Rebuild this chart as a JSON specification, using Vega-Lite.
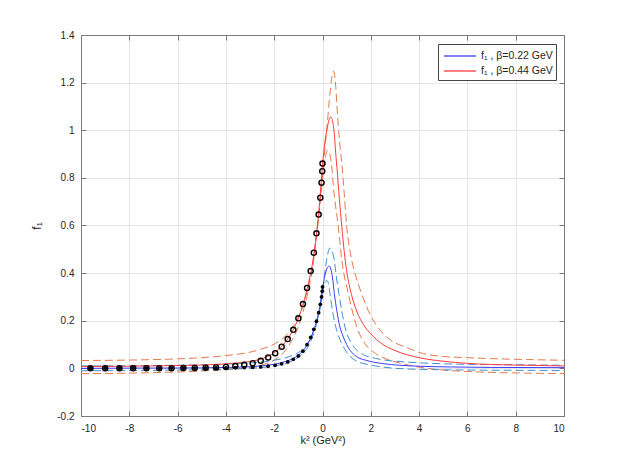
{
  "$schema": "https://vega.github.io/schema/vega-lite/v6.json",
  "description": "f1 versus k2 for beta = 0.22 GeV and 0.44 GeV, with bands and data points",
  "autosize": "none",
  "padding": {"left": 81, "top": 35, "right": 59, "bottom": 51},
  "width": 483,
  "height": 381,
  "background": "white",
  "config": {
    "font": "Liberation Sans",
    "view": {"stroke": null},
    "axis": {
      "labelFont": "Liberation Sans",
      "labelFontSize": 10,
      "labelColor": "#262626",
      "titleFont": "Liberation Sans",
      "titleFontSize": 11,
      "titleFontWeight": "normal",
      "titleColor": "#262626",
      "domainColor": "#7a7a7a",
      "tickColor": "#7a7a7a",
      "gridColor": "#e6e6e6",
      "gridWidth": 1
    }
  },
  "datasets": {
    "solid": [
      {"x": -10, "y": 0.0, "s": "f₁ , β=0.22 GeV"},
      {"x": -8, "y": 0.001, "s": "f₁ , β=0.22 GeV"},
      {"x": -6, "y": 0.0015, "s": "f₁ , β=0.22 GeV"},
      {"x": -5, "y": 0.002, "s": "f₁ , β=0.22 GeV"},
      {"x": -4, "y": 0.004, "s": "f₁ , β=0.22 GeV"},
      {"x": -3, "y": 0.007, "s": "f₁ , β=0.22 GeV"},
      {"x": -2.5, "y": 0.011, "s": "f₁ , β=0.22 GeV"},
      {"x": -2, "y": 0.017, "s": "f₁ , β=0.22 GeV"},
      {"x": -1.5, "y": 0.03, "s": "f₁ , β=0.22 GeV"},
      {"x": -1.2, "y": 0.042, "s": "f₁ , β=0.22 GeV"},
      {"x": -1, "y": 0.055, "s": "f₁ , β=0.22 GeV"},
      {"x": -0.8, "y": 0.075, "s": "f₁ , β=0.22 GeV"},
      {"x": -0.6, "y": 0.104, "s": "f₁ , β=0.22 GeV"},
      {"x": -0.4, "y": 0.15, "s": "f₁ , β=0.22 GeV"},
      {"x": -0.25, "y": 0.198, "s": "f₁ , β=0.22 GeV"},
      {"x": -0.1, "y": 0.265, "s": "f₁ , β=0.22 GeV"},
      {"x": 0, "y": 0.335, "s": "f₁ , β=0.22 GeV"},
      {"x": 0.1, "y": 0.39, "s": "f₁ , β=0.22 GeV"},
      {"x": 0.2, "y": 0.423, "s": "f₁ , β=0.22 GeV"},
      {"x": 0.27, "y": 0.43, "s": "f₁ , β=0.22 GeV"},
      {"x": 0.35, "y": 0.415, "s": "f₁ , β=0.22 GeV"},
      {"x": 0.41, "y": 0.384, "s": "f₁ , β=0.22 GeV"},
      {"x": 0.49, "y": 0.314, "s": "f₁ , β=0.22 GeV"},
      {"x": 0.59, "y": 0.244, "s": "f₁ , β=0.22 GeV"},
      {"x": 0.72, "y": 0.174, "s": "f₁ , β=0.22 GeV"},
      {"x": 0.85, "y": 0.135, "s": "f₁ , β=0.22 GeV"},
      {"x": 1.0, "y": 0.1, "s": "f₁ , β=0.22 GeV"},
      {"x": 1.15, "y": 0.075, "s": "f₁ , β=0.22 GeV"},
      {"x": 1.4, "y": 0.05, "s": "f₁ , β=0.22 GeV"},
      {"x": 1.8, "y": 0.034, "s": "f₁ , β=0.22 GeV"},
      {"x": 2.5, "y": 0.02, "s": "f₁ , β=0.22 GeV"},
      {"x": 3.2, "y": 0.013, "s": "f₁ , β=0.22 GeV"},
      {"x": 4, "y": 0.009, "s": "f₁ , β=0.22 GeV"},
      {"x": 5.3, "y": 0.006, "s": "f₁ , β=0.22 GeV"},
      {"x": 7, "y": 0.004, "s": "f₁ , β=0.22 GeV"},
      {"x": 10, "y": 0.003, "s": "f₁ , β=0.22 GeV"},
      {"x": -10, "y": 0.008, "s": "f₁ , β=0.44 GeV"},
      {"x": -8, "y": 0.009, "s": "f₁ , β=0.44 GeV"},
      {"x": -6, "y": 0.012, "s": "f₁ , β=0.44 GeV"},
      {"x": -5, "y": 0.014, "s": "f₁ , β=0.44 GeV"},
      {"x": -4, "y": 0.019, "s": "f₁ , β=0.44 GeV"},
      {"x": -3.5, "y": 0.023, "s": "f₁ , β=0.44 GeV"},
      {"x": -3, "y": 0.029, "s": "f₁ , β=0.44 GeV"},
      {"x": -2.5, "y": 0.041, "s": "f₁ , β=0.44 GeV"},
      {"x": -2, "y": 0.066, "s": "f₁ , β=0.44 GeV"},
      {"x": -1.5, "y": 0.115, "s": "f₁ , β=0.44 GeV"},
      {"x": -1.2, "y": 0.165, "s": "f₁ , β=0.44 GeV"},
      {"x": -1, "y": 0.21, "s": "f₁ , β=0.44 GeV"},
      {"x": -0.8, "y": 0.27, "s": "f₁ , β=0.44 GeV"},
      {"x": -0.6, "y": 0.35, "s": "f₁ , β=0.44 GeV"},
      {"x": -0.4, "y": 0.45, "s": "f₁ , β=0.44 GeV"},
      {"x": -0.25, "y": 0.565, "s": "f₁ , β=0.44 GeV"},
      {"x": -0.1, "y": 0.72, "s": "f₁ , β=0.44 GeV"},
      {"x": 0, "y": 0.855, "s": "f₁ , β=0.44 GeV"},
      {"x": 0.1, "y": 0.95, "s": "f₁ , β=0.44 GeV"},
      {"x": 0.2, "y": 1.01, "s": "f₁ , β=0.44 GeV"},
      {"x": 0.3, "y": 1.052, "s": "f₁ , β=0.44 GeV"},
      {"x": 0.35, "y": 1.056, "s": "f₁ , β=0.44 GeV"},
      {"x": 0.4, "y": 1.045, "s": "f₁ , β=0.44 GeV"},
      {"x": 0.45, "y": 1.02, "s": "f₁ , β=0.44 GeV"},
      {"x": 0.5, "y": 0.97, "s": "f₁ , β=0.44 GeV"},
      {"x": 0.55, "y": 0.9, "s": "f₁ , β=0.44 GeV"},
      {"x": 0.6, "y": 0.84, "s": "f₁ , β=0.44 GeV"},
      {"x": 0.7, "y": 0.71, "s": "f₁ , β=0.44 GeV"},
      {"x": 0.8, "y": 0.595, "s": "f₁ , β=0.44 GeV"},
      {"x": 0.9, "y": 0.49, "s": "f₁ , β=0.44 GeV"},
      {"x": 1.0, "y": 0.41, "s": "f₁ , β=0.44 GeV"},
      {"x": 1.2, "y": 0.31, "s": "f₁ , β=0.44 GeV"},
      {"x": 1.4, "y": 0.245, "s": "f₁ , β=0.44 GeV"},
      {"x": 1.76, "y": 0.174, "s": "f₁ , β=0.44 GeV"},
      {"x": 2.0, "y": 0.145, "s": "f₁ , β=0.44 GeV"},
      {"x": 2.45, "y": 0.104, "s": "f₁ , β=0.44 GeV"},
      {"x": 3, "y": 0.075, "s": "f₁ , β=0.44 GeV"},
      {"x": 4, "y": 0.045, "s": "f₁ , β=0.44 GeV"},
      {"x": 5, "y": 0.03, "s": "f₁ , β=0.44 GeV"},
      {"x": 6, "y": 0.021, "s": "f₁ , β=0.44 GeV"},
      {"x": 8, "y": 0.014, "s": "f₁ , β=0.44 GeV"},
      {"x": 10, "y": 0.01, "s": "f₁ , β=0.44 GeV"}
    ],
    "dashed": [
      {"x": -10, "y": 0.033, "c": "ru"},
      {"x": -8, "y": 0.035, "c": "ru"},
      {"x": -6, "y": 0.04, "c": "ru"},
      {"x": -5, "y": 0.045, "c": "ru"},
      {"x": -4, "y": 0.054, "c": "ru"},
      {"x": -3, "y": 0.068, "c": "ru"},
      {"x": -2.5, "y": 0.082, "c": "ru"},
      {"x": -2, "y": 0.102, "c": "ru"},
      {"x": -1.5, "y": 0.14, "c": "ru"},
      {"x": -1.2, "y": 0.18, "c": "ru"},
      {"x": -1, "y": 0.215, "c": "ru"},
      {"x": -0.8, "y": 0.27, "c": "ru"},
      {"x": -0.6, "y": 0.34, "c": "ru"},
      {"x": -0.4, "y": 0.44, "c": "ru"},
      {"x": -0.2, "y": 0.6, "c": "ru"},
      {"x": 0, "y": 0.8, "c": "ru"},
      {"x": 0.1, "y": 0.92, "c": "ru"},
      {"x": 0.2, "y": 1.03, "c": "ru"},
      {"x": 0.31, "y": 1.155, "c": "ru"},
      {"x": 0.4, "y": 1.232, "c": "ru"},
      {"x": 0.45, "y": 1.248, "c": "ru"},
      {"x": 0.5, "y": 1.235, "c": "ru"},
      {"x": 0.55, "y": 1.18, "c": "ru"},
      {"x": 0.6, "y": 1.1, "c": "ru"},
      {"x": 0.7, "y": 0.96, "c": "ru"},
      {"x": 0.8, "y": 0.86, "c": "ru"},
      {"x": 0.9, "y": 0.735, "c": "ru"},
      {"x": 1.0, "y": 0.6, "c": "ru"},
      {"x": 1.2, "y": 0.46, "c": "ru"},
      {"x": 1.4, "y": 0.38, "c": "ru"},
      {"x": 1.62, "y": 0.314, "c": "ru"},
      {"x": 2, "y": 0.22, "c": "ru"},
      {"x": 2.24, "y": 0.18, "c": "ru"},
      {"x": 2.8, "y": 0.12, "c": "ru"},
      {"x": 3.42, "y": 0.09, "c": "ru"},
      {"x": 4.18, "y": 0.062, "c": "ru"},
      {"x": 5, "y": 0.05, "c": "ru"},
      {"x": 6, "y": 0.045, "c": "ru"},
      {"x": 7, "y": 0.041, "c": "ru"},
      {"x": 8.5, "y": 0.037, "c": "ru"},
      {"x": 10, "y": 0.034, "c": "ru"},
      {"x": -10, "y": -0.022, "c": "rl"},
      {"x": -8, "y": -0.02, "c": "rl"},
      {"x": -6, "y": -0.015, "c": "rl"},
      {"x": -5, "y": -0.011, "c": "rl"},
      {"x": -4, "y": -0.005, "c": "rl"},
      {"x": -3, "y": 0.004, "c": "rl"},
      {"x": -2.5, "y": 0.015, "c": "rl"},
      {"x": -2, "y": 0.035, "c": "rl"},
      {"x": -1.5, "y": 0.08, "c": "rl"},
      {"x": -1.2, "y": 0.13, "c": "rl"},
      {"x": -1, "y": 0.175, "c": "rl"},
      {"x": -0.8, "y": 0.24, "c": "rl"},
      {"x": -0.6, "y": 0.32, "c": "rl"},
      {"x": -0.4, "y": 0.43, "c": "rl"},
      {"x": -0.2, "y": 0.6, "c": "rl"},
      {"x": 0, "y": 0.8, "c": "rl"},
      {"x": 0.1, "y": 0.874, "c": "rl"},
      {"x": 0.21, "y": 0.916, "c": "rl"},
      {"x": 0.3, "y": 0.9, "c": "rl"},
      {"x": 0.35, "y": 0.874, "c": "rl"},
      {"x": 0.48, "y": 0.734, "c": "rl"},
      {"x": 0.655, "y": 0.594, "c": "rl"},
      {"x": 0.8, "y": 0.454, "c": "rl"},
      {"x": 1.07, "y": 0.314, "c": "rl"},
      {"x": 1.42, "y": 0.174, "c": "rl"},
      {"x": 1.76, "y": 0.104, "c": "rl"},
      {"x": 2.2, "y": 0.062, "c": "rl"},
      {"x": 2.8, "y": 0.034, "c": "rl"},
      {"x": 3.5, "y": 0.015, "c": "rl"},
      {"x": 4.87, "y": -0.006, "c": "rl"},
      {"x": 6, "y": -0.013, "c": "rl"},
      {"x": 7, "y": -0.017, "c": "rl"},
      {"x": 8.5, "y": -0.02, "c": "rl"},
      {"x": 10, "y": -0.022, "c": "rl"},
      {"x": -10, "y": 0.01, "c": "bu"},
      {"x": -8, "y": 0.011, "c": "bu"},
      {"x": -6, "y": 0.013, "c": "bu"},
      {"x": -5, "y": 0.015, "c": "bu"},
      {"x": -4, "y": 0.018, "c": "bu"},
      {"x": -3, "y": 0.023, "c": "bu"},
      {"x": -2.5, "y": 0.027, "c": "bu"},
      {"x": -2, "y": 0.034, "c": "bu"},
      {"x": -1.5, "y": 0.045, "c": "bu"},
      {"x": -1.2, "y": 0.056, "c": "bu"},
      {"x": -1, "y": 0.066, "c": "bu"},
      {"x": -0.8, "y": 0.082, "c": "bu"},
      {"x": -0.6, "y": 0.107, "c": "bu"},
      {"x": -0.4, "y": 0.148, "c": "bu"},
      {"x": -0.25, "y": 0.19, "c": "bu"},
      {"x": -0.1, "y": 0.25, "c": "bu"},
      {"x": 0, "y": 0.31, "c": "bu"},
      {"x": 0.075, "y": 0.384, "c": "bu"},
      {"x": 0.17, "y": 0.454, "c": "bu"},
      {"x": 0.25, "y": 0.495, "c": "bu"},
      {"x": 0.31, "y": 0.506, "c": "bu"},
      {"x": 0.38, "y": 0.495, "c": "bu"},
      {"x": 0.49, "y": 0.454, "c": "bu"},
      {"x": 0.58, "y": 0.38, "c": "bu"},
      {"x": 0.68, "y": 0.314, "c": "bu"},
      {"x": 0.8, "y": 0.24, "c": "bu"},
      {"x": 0.93, "y": 0.174, "c": "bu"},
      {"x": 1.21, "y": 0.104, "c": "bu"},
      {"x": 1.62, "y": 0.062, "c": "bu"},
      {"x": 2.2, "y": 0.042, "c": "bu"},
      {"x": 2.8, "y": 0.032, "c": "bu"},
      {"x": 3.42, "y": 0.027, "c": "bu"},
      {"x": 4.5, "y": 0.021, "c": "bu"},
      {"x": 6, "y": 0.017, "c": "bu"},
      {"x": 8, "y": 0.015, "c": "bu"},
      {"x": 10, "y": 0.013, "c": "bu"},
      {"x": -10, "y": -0.01, "c": "bl"},
      {"x": -8, "y": -0.009, "c": "bl"},
      {"x": -6, "y": -0.007, "c": "bl"},
      {"x": -5, "y": -0.006, "c": "bl"},
      {"x": -4, "y": -0.003, "c": "bl"},
      {"x": -3, "y": 0.0, "c": "bl"},
      {"x": -2.5, "y": 0.004, "c": "bl"},
      {"x": -2, "y": 0.01, "c": "bl"},
      {"x": -1.5, "y": 0.022, "c": "bl"},
      {"x": -1.2, "y": 0.034, "c": "bl"},
      {"x": -1, "y": 0.046, "c": "bl"},
      {"x": -0.8, "y": 0.064, "c": "bl"},
      {"x": -0.6, "y": 0.09, "c": "bl"},
      {"x": -0.4, "y": 0.135, "c": "bl"},
      {"x": -0.25, "y": 0.185, "c": "bl"},
      {"x": -0.1, "y": 0.26, "c": "bl"},
      {"x": 0, "y": 0.32, "c": "bl"},
      {"x": 0.1, "y": 0.36, "c": "bl"},
      {"x": 0.17, "y": 0.37, "c": "bl"},
      {"x": 0.25, "y": 0.355, "c": "bl"},
      {"x": 0.31, "y": 0.314, "c": "bl"},
      {"x": 0.41, "y": 0.244, "c": "bl"},
      {"x": 0.55, "y": 0.174, "c": "bl"},
      {"x": 0.8, "y": 0.104, "c": "bl"},
      {"x": 1.0, "y": 0.068, "c": "bl"},
      {"x": 1.35, "y": 0.034, "c": "bl"},
      {"x": 1.8, "y": 0.018, "c": "bl"},
      {"x": 2.2, "y": 0.01, "c": "bl"},
      {"x": 2.8, "y": 0.002, "c": "bl"},
      {"x": 3.42, "y": -0.002, "c": "bl"},
      {"x": 4.5, "y": -0.005, "c": "bl"},
      {"x": 6, "y": -0.007, "c": "bl"},
      {"x": 8, "y": -0.008, "c": "bl"},
      {"x": 10, "y": -0.009, "c": "bl"}
    ],
    "open_pts": [
      {"x": 0, "y": 0.86},
      {"x": -0.01, "y": 0.828},
      {"x": -0.04, "y": 0.78},
      {"x": -0.09, "y": 0.717},
      {"x": -0.16, "y": 0.646},
      {"x": -0.25, "y": 0.567},
      {"x": -0.36, "y": 0.486},
      {"x": -0.49, "y": 0.409},
      {"x": -0.64, "y": 0.338},
      {"x": -0.81, "y": 0.27},
      {"x": -1.0, "y": 0.21},
      {"x": -1.21, "y": 0.162},
      {"x": -1.44, "y": 0.123},
      {"x": -1.69, "y": 0.091},
      {"x": -1.96, "y": 0.064},
      {"x": -2.25, "y": 0.046},
      {"x": -2.56, "y": 0.032},
      {"x": -2.89, "y": 0.022},
      {"x": -3.24, "y": 0.015},
      {"x": -3.61, "y": 0.01},
      {"x": -4.0, "y": 0.006},
      {"x": -4.41, "y": 0.004},
      {"x": -4.84, "y": 0.003},
      {"x": -5.29, "y": 0.002},
      {"x": -5.76, "y": 0.0015},
      {"x": -6.25, "y": 0.001},
      {"x": -6.76, "y": 0.001},
      {"x": -7.29, "y": 0.0008},
      {"x": -7.84, "y": 0.0006},
      {"x": -8.41, "y": 0.0005},
      {"x": -9.0, "y": 0.0004},
      {"x": -9.61, "y": 0.0003}
    ],
    "filled_pts": [
      {"x": 0, "y": 0.342},
      {"x": -0.01, "y": 0.324},
      {"x": -0.04, "y": 0.3},
      {"x": -0.09, "y": 0.269},
      {"x": -0.16, "y": 0.234},
      {"x": -0.25, "y": 0.198},
      {"x": -0.36, "y": 0.164},
      {"x": -0.49, "y": 0.13},
      {"x": -0.64, "y": 0.1},
      {"x": -0.81, "y": 0.072},
      {"x": -1.0, "y": 0.052},
      {"x": -1.21, "y": 0.038},
      {"x": -1.44, "y": 0.027},
      {"x": -1.69, "y": 0.019},
      {"x": -1.96, "y": 0.013},
      {"x": -2.25, "y": 0.009},
      {"x": -2.56, "y": 0.006},
      {"x": -2.89, "y": 0.0045},
      {"x": -3.24, "y": 0.0035},
      {"x": -3.61, "y": 0.003},
      {"x": -4.0, "y": 0.0025},
      {"x": -4.41, "y": 0.002},
      {"x": -4.84, "y": 0.0018},
      {"x": -5.29, "y": 0.0015},
      {"x": -5.76, "y": 0.0013},
      {"x": -6.25, "y": 0.0011},
      {"x": -6.76, "y": 0.001},
      {"x": -7.29, "y": 0.0009},
      {"x": -7.84, "y": 0.0008},
      {"x": -8.41, "y": 0.0007},
      {"x": -9.0, "y": 0.0006},
      {"x": -9.61, "y": 0.0005}
    ]
  },
  "resolve": {"axis": {"x": "independent", "y": "independent"}},
  "layer": [
    {
      "data": {"name": "dashed"},
      "mark": {"type": "line", "interpolate": "monotone", "strokeWidth": 1, "strokeDash": [8, 4], "clip": true},
      "encoding": {
        "x": {
          "field": "x", "type": "quantitative",
          "scale": {"domain": [-10, 10], "nice": false},
          "axis": {
            "orient": "bottom",
            "values": [-10, -8, -6, -4, -2, 0, 2, 4, 6, 8, 10],
            "labelExpr": "'' + datum.value",
            "grid": true,
            "tickSize": -5,
            "labelPadding": 12,
            "title": "k² (GeV²)",
            "titlePadding": 1
          }
        },
        "y": {
          "field": "y", "type": "quantitative",
          "scale": {"domain": [-0.2, 1.4], "nice": false, "zero": false},
          "axis": {
            "orient": "left",
            "values": [-0.2, 0, 0.2, 0.4, 0.6, 0.8, 1, 1.2, 1.4],
            "labelExpr": "'' + datum.value",
            "grid": true,
            "tickSize": -5,
            "labelPadding": 12,
            "title": "f₁",
            "titleFontSize": 12,
            "titlePadding": 13
          }
        },
        "detail": {"field": "c"},
        "stroke": {
          "field": "c", "type": "nominal",
          "scale": {"domain": ["ru", "rl", "bu", "bl"], "range": ["#e57a4c", "#e57a4c", "#3e90d2", "#3e90d2"]},
          "legend": null
        }
      }
    },
    {
      "data": {"name": "solid"},
      "mark": {"type": "line", "interpolate": "monotone", "strokeWidth": 1, "clip": true},
      "encoding": {
        "x": {
          "field": "x", "type": "quantitative",
          "scale": {"domain": [-10, 10], "nice": false},
          "axis": {
            "orient": "top",
            "values": [-10, -8, -6, -4, -2, 0, 2, 4, 6, 8, 10],
            "labels": false,
            "grid": false,
            "tickSize": -5,
            "title": null
          }
        },
        "y": {
          "field": "y", "type": "quantitative",
          "scale": {"domain": [-0.2, 1.4], "nice": false, "zero": false},
          "axis": {
            "orient": "right",
            "values": [-0.2, 0, 0.2, 0.4, 0.6, 0.8, 1, 1.2, 1.4],
            "labels": false,
            "grid": false,
            "tickSize": -5,
            "title": null
          }
        },
        "color": {
          "field": "s", "type": "nominal",
          "scale": {"domain": ["f₁ , β=0.22 GeV", "f₁ , β=0.44 GeV"], "range": ["#3c3cff", "#ff3c3c"]},
          "legend": {
            "title": null,
            "orient": "none",
            "legendX": 357,
            "legendY": 9,
            "symbolType": "M-2,0H2",
            "symbolSize": 256,
            "symbolStrokeWidth": 1.3,
            "symbolOffset": 10,
            "labelFontSize": 10.5,
            "labelFont": "Liberation Sans",
            "labelColor": "#262626",
            "labelOffset": 12,
            "rowPadding": 0,
            "padding": 3,
            "strokeColor": "#444444",
            "fillColor": "white",
            "encode": {
              "symbols": {
                "update": {
                  "stroke": {"signal": "indexof(datum.label, '0.22') >= 0 ? '#3c3cff' : '#ff3c3c'"},
                  "strokeDash": {"value": []},
                  "strokeOpacity": {"value": 1},
                  "opacity": {"value": 1},
                  "fill": {"value": "transparent"}
                }
              }
            }
          }
        }
      }
    },
    {
      "data": {"name": "open_pts"},
      "mark": {"type": "point", "shape": "circle", "filled": false, "size": 26, "strokeWidth": 1.4, "color": "black", "opacity": 1},
      "encoding": {
        "x": {"field": "x", "type": "quantitative", "axis": null},
        "y": {"field": "y", "type": "quantitative", "axis": null}
      }
    },
    {
      "data": {"name": "filled_pts"},
      "mark": {"type": "circle", "size": 14, "color": "black", "opacity": 1},
      "encoding": {
        "x": {"field": "x", "type": "quantitative", "axis": null},
        "y": {"field": "y", "type": "quantitative", "axis": null}
      }
    }
  ]
}
